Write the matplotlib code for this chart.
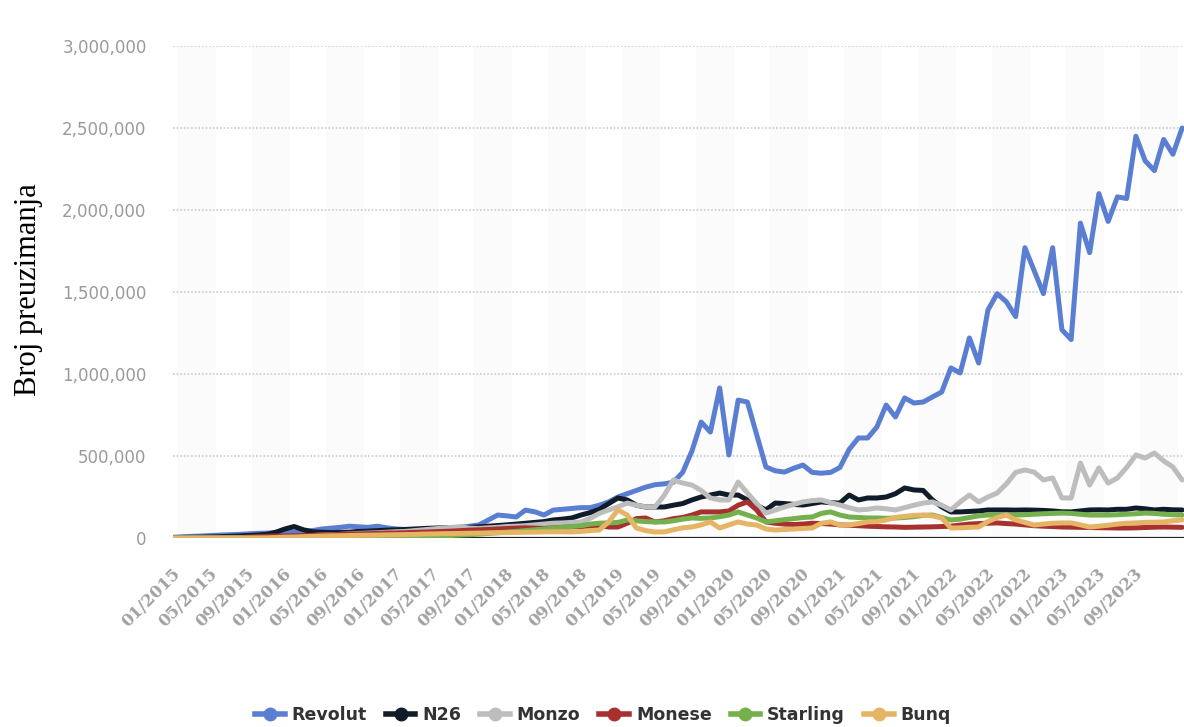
import numpy as np
import matplotlib
matplotlib.use("Agg")
import matplotlib.pyplot as plt
from matplotlib.lines import Line2D
from matplotlib.ticker import FuncFormatter
from matplotlib.transforms import ScaledTranslation

# monthly downloads in thousands, 01/2015 .. 02/2024 (one row per year)
revolut = [
    5, 8, 10, 12, 15, 18, 20, 22, 25, 28, 30, 32,
    35, 38, 40, 45, 55, 60, 65, 72, 68, 65, 72, 62,
    55, 52, 50, 52, 55, 58, 62, 66, 72, 80, 110, 140,
    135, 128, 170, 160, 140, 170, 175, 180, 185, 185, 200, 220,
    250, 270, 290, 310, 325, 330, 340, 400, 530, 707, 646, 915,
    506, 841, 829, 630, 433, 410, 402, 425, 445, 400, 395, 400,
    430, 540, 610, 610, 677, 811, 738, 854, 823, 829, 860, 890,
    1037, 1006, 1220, 1067, 1390, 1490, 1440, 1350, 1770, 1630, 1490, 1770,
    1270, 1210, 1920, 1740, 2100, 1930, 2080, 2070, 2450, 2300, 2240, 2430,
    2340, 2500,
]
n26 = [
    2, 3, 4, 5, 6, 8, 10, 12, 15, 18, 22, 35,
    55, 70, 50, 38, 35, 33, 34, 36, 40, 42, 45, 48,
    50, 52, 55, 58, 60, 62, 62, 62, 65, 68, 72, 76,
    80, 85, 90, 95, 100, 110, 115, 122, 140, 155, 175, 210,
    244, 232, 200, 189, 189, 189, 200, 210, 232, 250, 262, 274,
    262, 262, 232, 200, 171, 213, 210, 205, 201, 210, 220, 215,
    213, 262, 232, 244, 244, 250, 270, 305, 293, 290, 232, 190,
    159, 159, 162, 165, 171, 171, 171, 170, 171, 170, 168, 165,
    160, 159, 165, 171, 172, 171, 175, 175, 183, 178, 171, 175,
    172, 171,
]
monzo = [
    0, 0, 0, 0, 0, 0, 1, 2, 3, 4, 5, 6,
    8, 10, 12, 15, 18, 20, 22, 25, 28, 30, 32, 35,
    38, 40, 45, 50, 55, 60, 65, 68, 60, 58, 62, 65,
    70, 72, 75, 80, 85, 90, 92, 95, 98, 120, 150, 171,
    190, 213, 200, 190, 189, 260, 354, 335, 323, 290, 244, 232,
    232, 341, 274, 210, 152, 170, 189, 205, 220, 228, 232, 215,
    201, 185, 171, 175, 183, 178, 171, 185, 200, 213, 220, 200,
    171, 220, 262, 220, 250, 274, 330, 400, 415, 402, 354, 366,
    244, 244, 457, 323, 427, 335, 366, 430, 506, 488, 518, 470,
    433, 354,
]
monese = [
    0, 0, 0, 0, 0, 0, 0, 0, 5, 8, 10, 12,
    12, 14, 15, 16, 18, 20, 22, 24, 25, 26, 28, 30,
    30, 32, 34, 36, 38, 40, 42, 45, 48, 50, 52, 55,
    58, 60, 62, 60, 58, 62, 65, 68, 70, 72, 75, 67,
    67, 90, 118, 122, 98, 105, 118, 125, 140, 159, 159, 159,
    165, 200, 220, 171, 98, 90, 85, 82, 85, 90, 88, 85,
    80, 78, 75, 72, 70, 68, 67, 65, 66, 67, 68, 70,
    72, 79, 85, 88, 90, 92, 88, 85, 80, 75, 72, 70,
    67, 66, 65, 64, 63, 62, 61, 61, 62, 64, 66, 67,
    66, 65,
]
starling = [
    0, 0, 0, 0, 0, 0, 0, 0, 0, 0, 0, 0,
    0, 0, 0, 0, 0, 0, 0, 0, 0, 0, 0, 0,
    2, 4, 6, 8, 10, 12, 15, 18, 20, 24, 28, 32,
    36, 40, 45, 50, 55, 60, 65, 70, 75, 85, 90, 92,
    95, 110, 105, 100, 98, 98, 105, 115, 122, 120, 122, 130,
    140, 159, 140, 122, 98, 105, 112, 118, 125, 128, 150, 159,
    140, 128, 125, 122, 122, 120, 122, 125, 130, 138, 140, 125,
    110, 115, 125, 135, 140, 140, 138, 140, 142, 145, 148, 150,
    152, 150, 145, 140, 140, 140, 142, 145, 148, 152, 150, 145,
    142, 140,
]
bunq = [
    0, 0, 0, 0, 0, 0, 0, 0, 0, 0, 0, 3,
    5, 6, 8, 10, 12, 13, 14, 15, 16, 17, 18, 19,
    20, 21, 22, 24, 25, 26, 27, 28, 29, 30, 31, 32,
    33, 34, 35, 36, 37, 38, 38, 37, 40, 45, 49, 98,
    171, 140, 61, 45, 37, 37, 50, 62, 67, 80, 98, 61,
    80, 98, 85, 79, 55, 49, 52, 55, 58, 61, 90, 98,
    79, 80, 88, 98, 100, 110, 125, 132, 138, 140, 135, 122,
    61, 62, 65, 67, 100, 125, 140, 110, 95, 79, 85, 90,
    92, 92, 80, 67, 72, 78, 85, 90, 92, 95, 96, 98,
    105, 110,
]

names = ["Revolut", "N26", "Monzo", "Monese", "Starling", "Bunq"]
colors = ["#5a7fd2", "#101c2a", "#bdbdbd", "#a8312f", "#74b04c", "#e6b465"]

tick_labels = [
    "01/2015", "05/2015", "09/2015", "01/2016", "05/2016", "09/2016",
    "01/2017", "05/2017", "09/2017", "01/2018", "05/2018", "09/2018",
    "01/2019", "05/2019", "09/2019", "01/2020", "05/2020", "09/2020",
    "01/2021", "05/2021", "09/2021", "01/2022", "05/2022", "09/2022",
    "01/2023", "05/2023", "09/2023",
]

W, H = 1184, 727
fig = plt.figure(figsize=(W / 100, H / 100), dpi=100)
ax = fig.add_axes([173 / W, 1 - 538 / H, 1011 / W, 492 / H])

months = np.arange(len(revolut))

# very faint background bands
for k in range(14):
    ax.axvspan(8 * k + 0.4, 8 * k + 4.6, color="#fbfbfb", zorder=0, lw=0)

for y in [500000, 1000000, 1500000, 2000000, 2500000, 3000000]:
    ax.axhline(y, color="#d2d2d2", lw=1.3, ls=(0, (1, 1)), zorder=0.5)
ax.axhline(0, color="#222222", lw=1.6, zorder=1)

series = [revolut, n26, monzo, monese, starling, bunq]
for name, vals, c in zip(names, series, colors):
    ax.plot(months, np.array(vals) * 1000, color=c, lw=3.6,
            solid_joinstyle="round", solid_capstyle="round", label=name, zorder=2)

ax.set_xlim(-0.1, 109.2)
ax.set_ylim(0, 3000000)
for s in ax.spines.values():
    s.set_visible(False)

ax.set_yticks([0, 500000, 1000000, 1500000, 2000000, 2500000, 3000000])
ax.yaxis.set_major_formatter(FuncFormatter(lambda v, p: f"{int(v):,}"))
ax.tick_params(axis="y", length=0, pad=19, labelsize=12, labelcolor="#9a9a9a")

ax.set_xticks(np.arange(0, len(tick_labels) * 4, 4))
ax.set_xticklabels(tick_labels, rotation=45, ha="right", va="center",
                   rotation_mode="anchor", family="DejaVu Serif",
                   fontsize=12, color="#a2a2a2", weight="bold")
ax.tick_params(axis="x", length=0, pad=24)
shift = ScaledTranslation(4 / 100, 0, fig.dpi_scale_trans)
for lab in ax.get_xticklabels():
    lab.set_transform(lab.get_transform() + shift)

fig.text(29 / W, 1 - 290 / H, "Broj preuzimanja", rotation=90,
         ha="center", va="center", family="Liberation Serif", fontsize=22)

handles = [Line2D([], [], color=c, lw=4, marker="o", markersize=9) for c in colors]
fig.legend(handles, names, loc="center", bbox_to_anchor=(603 / W, 1 - 715 / H),
           ncol=6, frameon=False, handlelength=1.7, handletextpad=0.4,
           columnspacing=1.1, prop={"family": "DejaVu Sans", "weight": "bold", "size": 12.5},
           labelcolor="#333333")

fig.savefig("out.png", dpi=100)
